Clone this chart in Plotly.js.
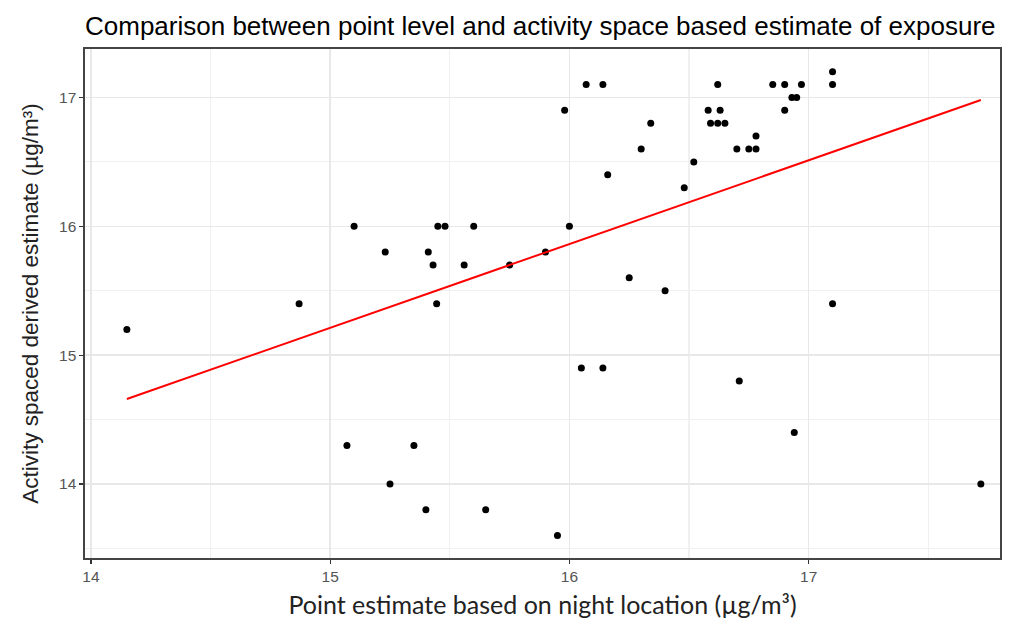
<!DOCTYPE html>
<html>
<head>
<meta charset="utf-8">
<script src="https://cdn.plot.ly/plotly-3.0.1.min.js"></script>
<style>html,body{margin:0;padding:0;background:#fff;}#chart{width:1012px;height:628px;}</style>
</head>
<body>
<div id="chart"></div>
<script>
// Point estimate based on night location (x) vs activity-space derived estimate (y)
const pointEstimate = [14.15, 14.87, 15.07, 15.10, 15.23, 15.25, 15.35, 15.40, 15.41, 15.43,
  15.445, 15.45, 15.48, 15.56, 15.60, 15.65, 15.75, 15.90, 15.95, 15.98,
  16.00, 16.05, 16.07, 16.14, 16.14, 16.16, 16.25, 16.30, 16.34, 16.40,
  16.48, 16.52, 16.58, 16.59, 16.62, 16.65, 16.62, 16.63, 16.70, 16.71,
  16.75, 16.78, 16.78, 16.85, 16.90, 16.90, 16.93, 16.95, 16.94, 16.97,
  17.10, 17.10, 17.10, 17.72];
const activityEstimate = [15.2, 15.4, 14.3, 16.0, 15.8, 14.0, 14.3, 13.8, 15.8, 15.7,
  15.4, 16.0, 16.0, 15.7, 16.0, 13.8, 15.7, 15.8, 13.6, 16.9,
  16.0, 14.9, 17.1, 17.1, 14.9, 16.4, 15.6, 16.6, 16.8, 15.5,
  16.3, 16.5, 16.9, 16.8, 16.8, 16.8, 17.1, 16.9, 16.6, 14.8,
  16.6, 16.6, 16.7, 17.1, 17.1, 16.9, 17.0, 17.0, 14.4, 17.1,
  17.2, 17.1, 15.4, 14.0];
// Fitted linear trend
const fitX = [14.15, 17.72];
const fitY = [14.66, 16.98];
const xTicks = [14, 15, 16, 17];
const yTicks = [14, 15, 16, 17];

const traces = [
  {
    x: pointEstimate, y: activityEstimate, type: 'scatter', mode: 'markers',
    marker: {color: '#000000', size: 7}, hoverinfo: 'x+y', showlegend: false
  },
  {
    x: fitX, y: fitY, type: 'scatter', mode: 'lines',
    line: {color: '#ff0000', width: 2}, showlegend: false
  }
];

const axisCommon = {
  showgrid: true, gridcolor: '#e8e8e8', gridwidth: 1.5,
  zeroline: false,
  showline: true, linecolor: '#444444', linewidth: 1.6, mirror: true,
  ticks: 'outside', ticklen: 4, tickcolor: '#333333', tickwidth: 1.2,
  tickfont: {family: 'Arial, Liberation Sans, sans-serif', size: 15.5, color: '#555555'}
};

const layout = {
  width: 1012, height: 628,
  paper_bgcolor: '#ffffff', plot_bgcolor: '#ffffff',
  margin: {l: 85, r: 12, t: 49, b: 70},
  title: {
    text: 'Comparison between point level and activity space based estimate of exposure',
    x: 0.084, xanchor: 'left', y: 0.958, yanchor: 'middle',
    font: {family: 'Arial, Liberation Sans, sans-serif', size: 26, color: '#000000'}
  },
  xaxis: Object.assign({}, axisCommon, {
    range: [13.975, 17.80], tickvals: xTicks, ticktext: xTicks.map(String),
    minor: {dtick: 0.5, tick0: 13.5, showgrid: true, gridcolor: '#f0f0f0', gridwidth: 1.2, ticks: ''},
    title: {text: 'Point estimate based on night location (µg/m³)', standoff: 12,
      font: {family: 'Lato, Open Sans, sans-serif', size: 25, color: '#222222'}}
  }),
  yaxis: Object.assign({}, axisCommon, {
    range: [13.426, 17.376], tickvals: yTicks, ticktext: yTicks.map(String),
    minor: {dtick: 0.5, tick0: 13.5, showgrid: true, gridcolor: '#f0f0f0', gridwidth: 1.2, ticks: ''},
    title: {text: 'Activity spaced derived estimate (µg/m³)', standoff: 14,
      font: {family: 'Arial, Liberation Sans, sans-serif', size: 22.5, color: '#222222'}}
  })
};

Plotly.newPlot('chart', traces, layout, {displayModeBar: false, staticPlot: true});
</script>
</body>
</html>
